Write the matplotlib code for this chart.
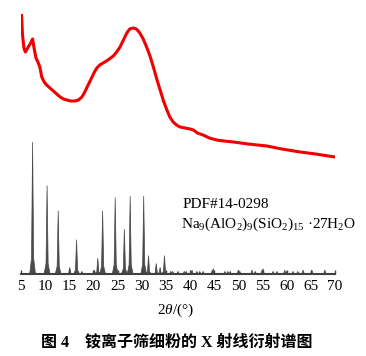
import matplotlib
matplotlib.use("Agg")
import matplotlib.pyplot as plt

# ---- data ----
# measured XRD pattern (red): 2theta (deg) and intensity (a.u.)
meas_2theta = [5.1, 5.3, 5.6, 5.9, 6.5, 7.0, 7.4, 7.7, 8.1, 8.5, 8.9, 9.3, 9.8, 10.3,
               11.0, 11.7, 12.4, 13.1, 13.8, 14.5, 15.3, 16.2, 16.9, 17.6, 18.1, 18.6,
               19.1, 19.6, 20.2, 20.7, 21.3, 22.0, 23.0, 24.1, 24.8, 25.5, 26.2, 26.9,
               27.5, 28.2, 28.9, 29.6, 30.3, 31.0, 31.7, 32.4, 33.1, 33.8, 34.5, 35.2,
               35.8, 36.5, 37.2, 37.9, 39.0, 40.0, 40.7, 41.5, 42.7, 44.0, 45.5, 47.0,
               49.0, 52.0, 55.9, 59.0, 62.8, 66.0, 70.0]
meas_int = [260, 240, 226, 222, 227, 231, 235, 226, 216, 212, 207, 197, 192, 189,
            186, 183, 180, 177, 175, 174, 173, 173, 174, 177, 181, 186,
            191, 196, 202, 206, 209, 211, 214, 218, 222, 227, 234, 241,
            245, 246, 245, 241, 235, 227, 218, 207, 195, 184, 173, 164,
            157, 152, 149, 147, 146, 145, 144, 141, 139, 136, 134, 133,
            132, 130, 128, 125, 122, 120, 117]

# standard card PDF#14-0298: peak positions (deg) and relative intensities (%)
std_2theta = [7.4, 10.4, 12.7, 15.1, 16.5, 17.6, 20.2, 20.9, 21.9, 24.5, 26.4, 27.6,
              30.4, 31.4, 33.0, 33.8, 34.7, 36.0, 36.4, 37.5, 38.8, 39.2, 40.4, 41.4,
              42.0, 42.7, 44.6, 44.8, 47.2, 47.8, 48.3, 50.0, 50.3, 52.8, 53.5, 54.9,
              55.1, 57.2, 58.0, 59.6, 60.0, 61.3, 62.3, 63.4, 65.2, 67.9]
std_rel = [100, 67, 48, 5, 26, 2, 3, 12, 48, 58, 34, 59,
           59, 14, 8, 5, 14, 2, 2, 2, 2, 2, 3, 2,
           2, 2, 3, 4, 2, 2, 2, 3, 2, 3, 2, 3,
           4, 2, 2, 3, 2, 2, 2, 3, 3, 3]

xticks = [5, 10, 15, 20, 25, 30, 35, 40, 45, 50, 55, 60, 65, 70]
card_label = "PDF#14-0298"
formula = r"Na$_9$(AlO$_2$)$_9$(SiO$_2$)$_{15}$ ·27H$_2$O"
xlabel = r"2$\mathit{θ}$/(°)"
caption = "图 4　铵离子筛细粉的 X 射线衍射谱图"

# ---- style ----
plt.rcParams["font.family"] = ["Liberation Serif", "Noto Sans CJK SC"]
plt.rcParams["mathtext.fontset"] = "custom"
plt.rcParams["mathtext.rm"] = "Liberation Serif"
plt.rcParams["mathtext.it"] = "Liberation Serif:italic"

W, H = 366, 356
fig = plt.figure(figsize=(W / 100, H / 100), dpi=100)
ax = fig.add_axes([21 / W, (H - 274) / H, (335 - 21) / W, 260 / H])
ax.set_xlim(5, 70)
ax.set_ylim(0, 260)

# standard pattern sticks (peaked shapes)
scale = 1.32
gray = "#4a4a4a"
for x, r in zip(std_2theta, std_rel):
    h = r * scale
    ax.fill([x - 0.6, x - 0.22, x, x + 0.22, x + 0.6],
            [0, 0.12 * h, h, 0.12 * h, 0], color=gray, lw=0.5, ec=gray)

# measured curve
ax.plot(meas_2theta, meas_int, color="#f00000", lw=2.2, solid_joinstyle="round")

for s in ["left", "top", "right"]:
    ax.spines[s].set_visible(False)
ax.spines["bottom"].set_color("#404040")
ax.spines["bottom"].set_linewidth(1.5)
ax.set_yticks([])
ax.set_xticks(xticks)
ax.tick_params(axis="x", direction="in", length=3, width=1, color="#404040",
               labelsize=11, pad=4)

ax.text(38.5, 69, card_label, fontsize=11, va="center", ha="left")
ax.text(38.2, 50, formula, fontsize=11, va="center", ha="left")

fig.text(176 / W, 1 - 310 / H, xlabel, fontsize=11, ha="center", va="center")
fig.text(177 / W, 1 - 343 / H, caption, fontsize=11.5, ha="center", va="center",
         fontweight="bold")

fig.savefig("out.png", dpi=100)
